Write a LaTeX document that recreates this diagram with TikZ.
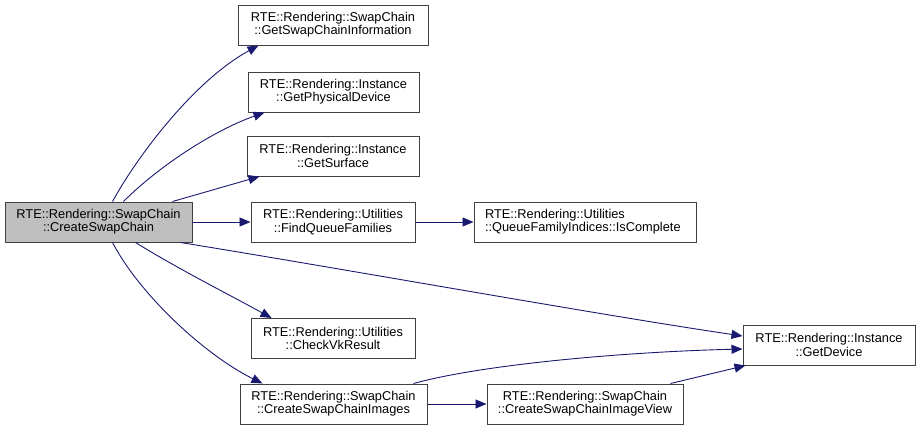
\documentclass[tikz,border=0pt]{standalone}
\usepackage{fontspec}
\setmainfont{Liberation Sans}
\usetikzlibrary{arrows.meta}
\definecolor{edgeblue}{HTML}{191970}
\definecolor{boxline}{HTML}{404040}
\definecolor{mainfill}{HTML}{BFBFBF}
\tikzset{
  fn/.style={draw=boxline, line width=1pt, fill=white, inner sep=0pt,
    minimum height=40pt, align=center,
    font=\fontsize{12.8}{13.3}\selectfont},
  mainfn/.style={fn, fill=mainfill},
  call/.style={draw=edgeblue, line width=0.9pt,
    -{Triangle[length=11pt,width=9pt]}},
}
\begin{document}
\begin{tikzpicture}[x=1pt,y=-1pt]
\useasboundingbox (0,0) rectangle (920,431);
\node[mainfn, minimum width=187pt] (main) at (98.5,222) {RTE::Rendering::SwapChain\\::CreateSwapChain};
\node[fn, minimum width=190pt] (info) at (333,25) {RTE::Rendering::SwapChain\\::GetSwapChainInformation};
\node[fn, minimum width=171pt] (phys) at (333.5,92) {RTE::Rendering::Instance\\::GetPhysicalDevice};
\node[fn, minimum width=172pt] (surf) at (333,156) {RTE::Rendering::Instance\\::GetSurface};
\node[fn, minimum width=164pt] (fqf) at (333,222) {RTE::Rendering::Utilities\\::FindQueueFamilies};
\node[fn, minimum width=222pt, align=left, text width=200pt] (isc) at (585,222) {RTE::Rendering::Utilities\\::QueueFamilyIndices::IsComplete};
\node[fn, minimum width=164pt] (chk) at (333,338.5) {RTE::Rendering::Utilities\\::CheckVkResult};
\node[fn, minimum width=187pt] (imgs) at (333.5,404) {RTE::Rendering::SwapChain\\::CreateSwapChainImages};
\node[fn, minimum width=196pt] (view) at (585,404) {RTE::Rendering::SwapChain\\::CreateSwapChainImageView};
\node[fn, minimum width=172pt] (dev) at (829,345) {RTE::Rendering::Instance\\::GetDevice};

\draw[call] ([xshift=14pt]main.north) .. controls (138,155) and (195,80) .. ([xshift=21pt]info.south west);
\draw[call] ([xshift=25pt]main.north) .. controls (160,165) and (215,130) .. ([xshift=17pt]phys.south west);
\draw[call] ([xshift=74pt]main.north) -- ([xshift=13pt]surf.south west);
\draw[call] (main.east) -- (main.east -| fqf.west);
\draw[call] (fqf.east) -- (fqf.east -| isc.west);
\draw[call] ([xshift=37pt]main.south) .. controls (180,270) and (230,295) .. ([xshift=21pt]chk.north west);
\draw[call] ([xshift=14pt]main.south) .. controls (140,295) and (205,355) .. ([xshift=23pt]imgs.north west);
\draw[call] ([xshift=-12pt]main.south east) .. controls (350,270) and (600,315) .. ([yshift=9pt]dev.west);
\draw[call] ([xshift=-14pt]imgs.north east) .. controls (480,365) and (620,352) .. ([yshift=-4pt]dev.west);
\draw[call] (imgs.east) -- (view.west);
\draw[call] ([xshift=-13pt]view.north east) -- ([xshift=3pt]dev.south west);
\end{tikzpicture}
\end{document}
